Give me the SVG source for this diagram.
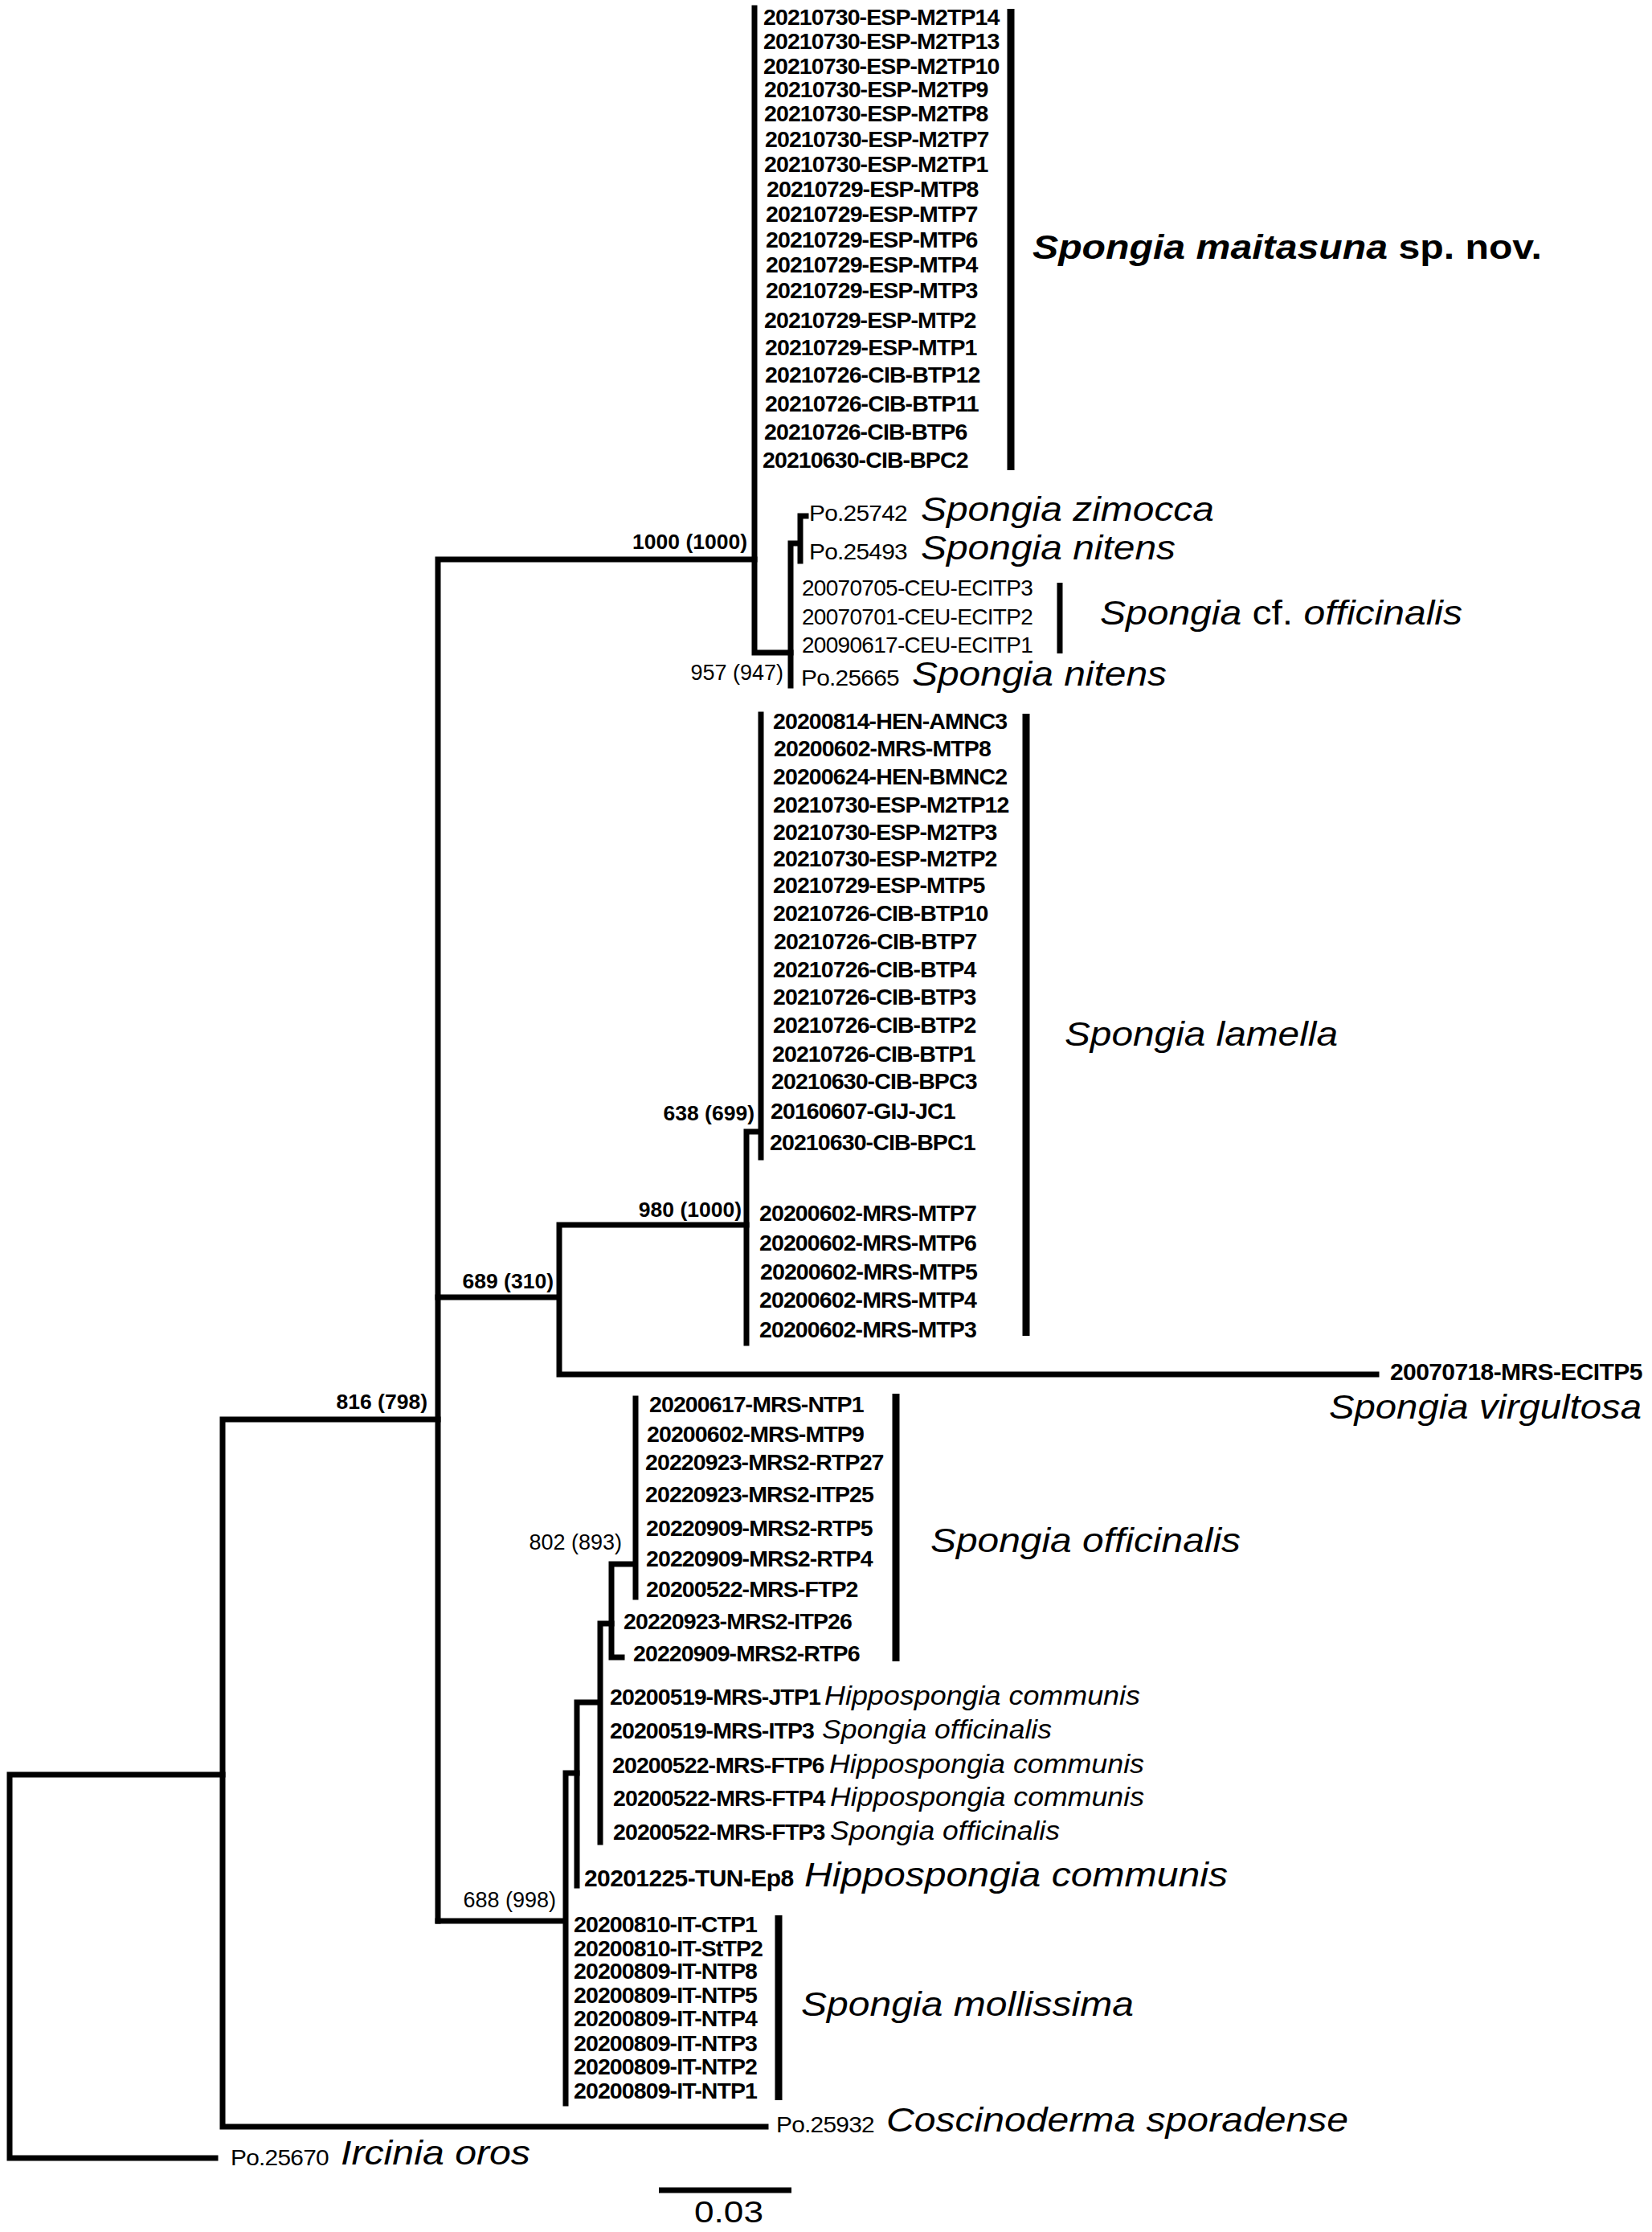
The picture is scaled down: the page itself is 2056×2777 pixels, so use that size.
<svg xmlns="http://www.w3.org/2000/svg" width="2056" height="2777" viewBox="0 0 2056 2777">
<style>
.br{fill:none;stroke:#000;stroke-width:7;stroke-linecap:square}
.bar{fill:none;stroke:#000;stroke-width:9}
text{font-family:"Liberation Sans",Arial,sans-serif;fill:#000}
.id{font-size:28.5px;font-weight:bold;letter-spacing:-0.9px}
.idr{font-size:28px;letter-spacing:-0.7px}
.bs{font-size:26.5px;font-weight:bold}
.bsr{font-size:27px}
.sp{font-size:43px;font-style:italic}
.sps{font-size:33px;font-style:italic}
</style>
<rect width="2056" height="2777" fill="#fff"/>
<g id="connectors">
<path class="br" d="M12 2208V2685M12 2208H277M12 2685H268"/>
<path class="br" d="M277 1766V2646M277 1766H545M277 2646H953"/>
<path class="br" d="M545 696V2390M545 696H939"/>
<path class="br" d="M939 10V812M939 812H984"/>
<path class="br" d="M984 676V853M984 676H996M996 642V698M996 642H1003"/>
<path class="br" d="M545 1614H696M696 1524V1710M696 1524H929M696 1710H1713"/>
<path class="br" d="M929 1408V1671M929 1408H947M947 889V1440"/>
<path class="br" d="M545 2390H704M704 2206V2617M704 2206H718"/>
<path class="br" d="M718 2118V2346M718 2118H747M747 2020V2292M747 2020H761"/>
<path class="br" d="M761 1946V2062M761 2062H774M761 1946H791M791 1740V1987"/>
</g>
<g id="clade-bars">
<path class="bar" d="M1258 11V585"/>
<path class="bar" d="M1319 725V813" style="stroke-width:7"/>
<path class="bar" d="M1277 888V1662"/>
<path class="bar" d="M1115 1734V2067"/>
<path class="bar" d="M969 2383V2613"/>
</g>
<g id="bootstrap">
<text class="bs" x="930" y="683" text-anchor="end">1000 (1000)</text>
<text class="bsr" x="975" y="846" text-anchor="end">957 (947)</text>
<text class="bs" x="939" y="1394" text-anchor="end">638 (699)</text>
<text class="bs" x="923" y="1514" text-anchor="end">980 (1000)</text>
<text class="bs" x="689" y="1603" text-anchor="end">689 (310)</text>
<text class="bs" x="532" y="1753" text-anchor="end">816 (798)</text>
<text class="bsr" x="774" y="1928" text-anchor="end">802 (893)</text>
<text class="bsr" x="692" y="2373" text-anchor="end">688 (998)</text>
</g>
<g id="maitasuna">
<text class="id" x="950" y="31">20210730-ESP-M2TP14</text>
<text class="id" x="950" y="61">20210730-ESP-M2TP13</text>
<text class="id" x="950" y="92">20210730-ESP-M2TP10</text>
<text class="id" x="951" y="121">20210730-ESP-M2TP9</text>
<text class="id" x="951" y="151">20210730-ESP-M2TP8</text>
<text class="id" x="952" y="183">20210730-ESP-M2TP7</text>
<text class="id" x="951" y="214">20210730-ESP-M2TP1</text>
<text class="id" x="954" y="245">20210729-ESP-MTP8</text>
<text class="id" x="953" y="276">20210729-ESP-MTP7</text>
<text class="id" x="953" y="308">20210729-ESP-MTP6</text>
<text class="id" x="953" y="339">20210729-ESP-MTP4</text>
<text class="id" x="953" y="371">20210729-ESP-MTP3</text>
<text class="id" x="951" y="408">20210729-ESP-MTP2</text>
<text class="id" x="952" y="442">20210729-ESP-MTP1</text>
<text class="id" x="952" y="476">20210726-CIB-BTP12</text>
<text class="id" x="952" y="512">20210726-CIB-BTP11</text>
<text class="id" x="951" y="547">20210726-CIB-BTP6</text>
<text class="id" x="949" y="582">20210630-CIB-BPC2</text>
<text x="1285" y="322" style="font-size:43px;font-weight:bold" textLength="634" lengthAdjust="spacingAndGlyphs"><tspan font-style="italic">Spongia maitasuna</tspan> sp. nov.</text>
</g>
<g id="nitens-group">
<text class="idr" x="1007" y="648" textLength="122" lengthAdjust="spacingAndGlyphs">Po.25742</text>
<text class="sp" x="1146" y="648" textLength="365" lengthAdjust="spacingAndGlyphs">Spongia zimocca</text>
<text class="idr" x="1007" y="696" textLength="122" lengthAdjust="spacingAndGlyphs">Po.25493</text>
<text class="sp" x="1146" y="696" textLength="317" lengthAdjust="spacingAndGlyphs">Spongia nitens</text>
<text class="idr" x="998" y="741">20070705-CEU-ECITP3</text>
<text class="idr" x="998" y="777">20070701-CEU-ECITP2</text>
<text class="idr" x="998" y="812">20090617-CEU-ECITP1</text>
<text class="sp" x="1369" y="777" textLength="451" lengthAdjust="spacingAndGlyphs">Spongia <tspan font-style="normal">cf.</tspan> officinalis</text>
<text class="idr" x="997" y="853" textLength="122" lengthAdjust="spacingAndGlyphs">Po.25665</text>
<text class="sp" x="1135" y="853" textLength="317" lengthAdjust="spacingAndGlyphs">Spongia nitens</text>
</g>
<g id="lamella">
<text class="id" x="962" y="907">20200814-HEN-AMNC3</text>
<text class="id" x="963" y="941">20200602-MRS-MTP8</text>
<text class="id" x="962" y="976">20200624-HEN-BMNC2</text>
<text class="id" x="962" y="1011">20210730-ESP-M2TP12</text>
<text class="id" x="962" y="1045">20210730-ESP-M2TP3</text>
<text class="id" x="962" y="1078">20210730-ESP-M2TP2</text>
<text class="id" x="962" y="1111">20210729-ESP-MTP5</text>
<text class="id" x="962" y="1146">20210726-CIB-BTP10</text>
<text class="id" x="963" y="1181">20210726-CIB-BTP7</text>
<text class="id" x="962" y="1216">20210726-CIB-BTP4</text>
<text class="id" x="962" y="1250">20210726-CIB-BTP3</text>
<text class="id" x="962" y="1285">20210726-CIB-BTP2</text>
<text class="id" x="961" y="1321">20210726-CIB-BTP1</text>
<text class="id" x="960" y="1355">20210630-CIB-BPC3</text>
<text class="id" x="959" y="1392">20160607-GIJ-JC1</text>
<text class="id" x="958" y="1431">20210630-CIB-BPC1</text>
<text class="id" x="945" y="1519">20200602-MRS-MTP7</text>
<text class="id" x="945" y="1556">20200602-MRS-MTP6</text>
<text class="id" x="946" y="1592">20200602-MRS-MTP5</text>
<text class="id" x="945" y="1627">20200602-MRS-MTP4</text>
<text class="id" x="945" y="1664">20200602-MRS-MTP3</text>
<text class="sp" x="1325" y="1301" textLength="340" lengthAdjust="spacingAndGlyphs">Spongia lamella</text>
</g>
<g id="virgultosa">
<text x="1730" y="1717" style="font-size:30px;font-weight:bold;letter-spacing:-0.6px">20070718-MRS-ECITP5</text>
<text class="sp" x="1654" y="1765" textLength="389" lengthAdjust="spacingAndGlyphs">Spongia virgultosa</text>
</g>
<g id="officinalis">
<text class="id" x="808" y="1757">20200617-MRS-NTP1</text>
<text class="id" x="805" y="1794">20200602-MRS-MTP9</text>
<text class="id" x="803" y="1829">20220923-MRS2-RTP27</text>
<text class="id" x="803" y="1869">20220923-MRS2-ITP25</text>
<text class="id" x="804" y="1911">20220909-MRS2-RTP5</text>
<text class="id" x="804" y="1949">20220909-MRS2-RTP4</text>
<text class="id" x="804" y="1987">20200522-MRS-FTP2</text>
<text class="id" x="776" y="2027">20220923-MRS2-ITP26</text>
<text class="id" x="788" y="2067">20220909-MRS2-RTP6</text>
<text class="sp" x="1158" y="1931" textLength="386" lengthAdjust="spacingAndGlyphs">Spongia officinalis</text>
</g>
<g id="hippospongia">
<text class="id" x="759" y="2121">20200519-MRS-JTP1</text>
<text class="sps" x="1026" y="2121" textLength="393" lengthAdjust="spacingAndGlyphs">Hippospongia communis</text>
<text class="id" x="759" y="2163">20200519-MRS-ITP3</text>
<text class="sps" x="1023" y="2163" textLength="286" lengthAdjust="spacingAndGlyphs">Spongia officinalis</text>
<text class="id" x="762" y="2206">20200522-MRS-FTP6</text>
<text class="sps" x="1032" y="2206" textLength="392" lengthAdjust="spacingAndGlyphs">Hippospongia communis</text>
<text class="id" x="763" y="2247">20200522-MRS-FTP4</text>
<text class="sps" x="1033" y="2247" textLength="391" lengthAdjust="spacingAndGlyphs">Hippospongia communis</text>
<text class="id" x="763" y="2289">20200522-MRS-FTP3</text>
<text class="sps" x="1033" y="2289" textLength="286" lengthAdjust="spacingAndGlyphs">Spongia officinalis</text>
<text x="727" y="2347" style="font-size:30px;font-weight:bold;letter-spacing:-0.6px">20201225-TUN-Ep8</text>
<text class="sp" x="1001" y="2347" textLength="527" lengthAdjust="spacingAndGlyphs">Hippospongia communis</text>
</g>
<g id="mollissima">
<text class="id" x="714" y="2404">20200810-IT-CTP1</text>
<text class="id" x="714" y="2434">20200810-IT-StTP2</text>
<text class="id" x="714" y="2462">20200809-IT-NTP8</text>
<text class="id" x="714" y="2492">20200809-IT-NTP5</text>
<text class="id" x="714" y="2521">20200809-IT-NTP4</text>
<text class="id" x="714" y="2552">20200809-IT-NTP3</text>
<text class="id" x="714" y="2581">20200809-IT-NTP2</text>
<text class="id" x="714" y="2611">20200809-IT-NTP1</text>
<text class="sp" x="997" y="2508" textLength="414" lengthAdjust="spacingAndGlyphs">Spongia mollissima</text>
</g>
<g id="coscinoderma">
<text class="idr" x="966" y="2653" textLength="122" lengthAdjust="spacingAndGlyphs">Po.25932</text>
<text class="sp" x="1103" y="2652" textLength="575" lengthAdjust="spacingAndGlyphs">Coscinoderma sporadense</text>
</g>
<g id="ircinia">
<text class="idr" x="287" y="2694" textLength="122" lengthAdjust="spacingAndGlyphs">Po.25670</text>
<text class="sp" x="424" y="2693" textLength="236" lengthAdjust="spacingAndGlyphs">Ircinia oros</text>
</g>
<g id="scale-bar">
<path d="M820 2725H985" stroke="#000" stroke-width="7"/>
<text x="864" y="2765" style="font-size:37px" textLength="86" lengthAdjust="spacingAndGlyphs">0.03</text>
</g>
</svg>
